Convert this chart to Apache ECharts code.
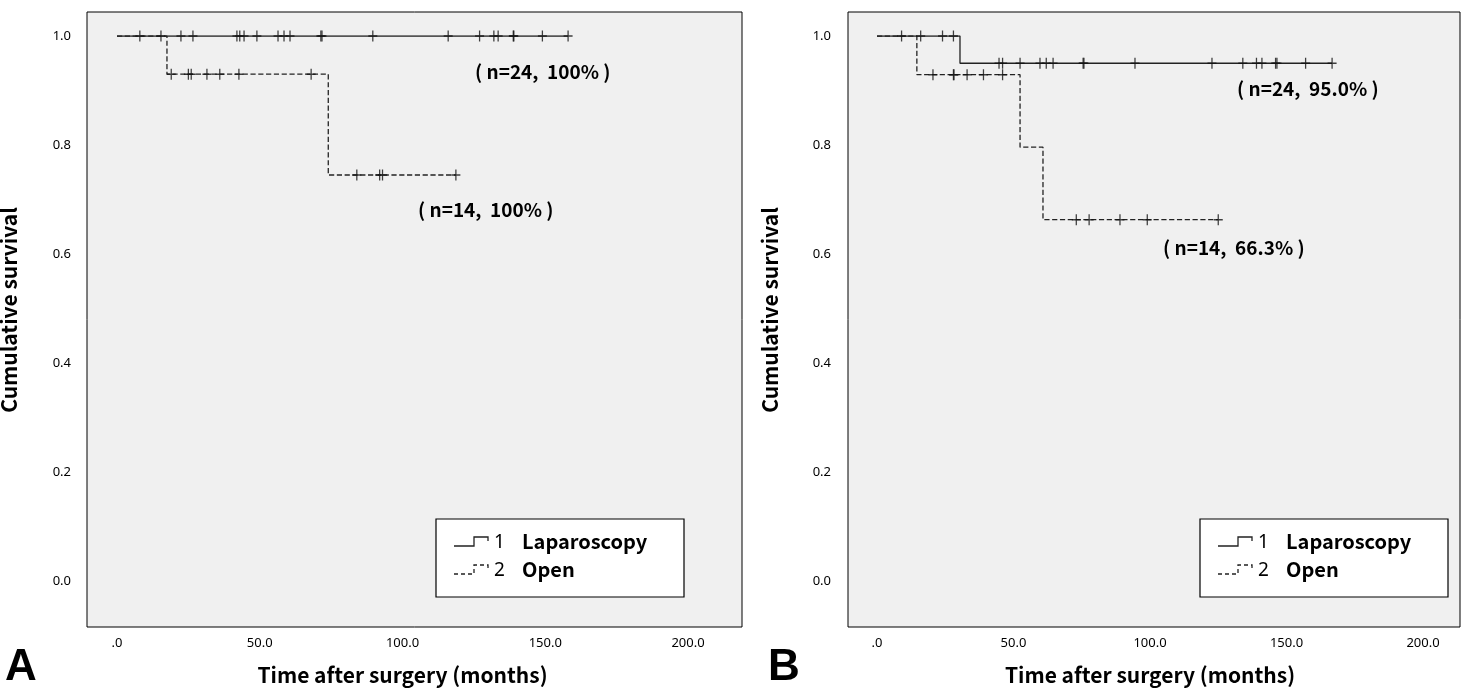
<!DOCTYPE html>
<html><head><meta charset="utf-8">
<script src="https://cdn.jsdelivr.net/npm/echarts@6/dist/echarts.min.js"></script>
<style>html,body{margin:0;background:#fff}#main{width:1465px;height:695px}</style>
</head><body><div id="main"></div>
<script>
// panel A
let lapStepsA = [[0, 1], [158, 1]];
let lapCensA = [8, 15.4, 22.4, 26.6, 42, 43, 44.5, 49, 56.4, 58.5, 60.6, 71.4, 71.8, 89.6, 116, 127, 132, 133.5, 138.8, 139, 149, 158];
let openStepsA = [[0, 1], [17.5, 0.93], [74, 0.745], [118.7, 0.745]];
let openCensA = [19, 25, 26, 31.5, 36, 42.7, 68, 84, 92, 93, 118.7];
// panel B
let lapStepsB = [[0, 1], [30.4, 0.95], [166.7, 0.95]];
let lapCensB = [9, 16, 24, 28, 44.7, 46, 52.4, 59.7, 62, 64.5, 75.5, 75.8, 94.5, 122.7, 134, 139, 141, 146, 146.5, 157, 166.7];
let openStepsB = [[0, 1], [14.6, 0.929], [52.4, 0.796], [60.8, 0.663], [125, 0.663]];
let openCensB = [20.5, 28, 28.2, 33, 39, 46, 73, 77.7, 89, 99, 125];
let xTicks = ['.0', '50.0', '100.0', '150.0', '200.0'];
let yTicks = ['0.0', '0.2', '0.4', '0.6', '0.8', '1.0'];

function yAt(steps, t) {
    let v = 1;
    steps.forEach(p => { if (p[0] <= t) v = p[1]; });
    return v;
}

let panels = [
    {box: [87, 12, 655, 615], left: 117, width: 571, lap: lapStepsA, lapC: lapCensA, open: openStepsA, openC: openCensA,
     lapTxt: '( n=24,  100% )', lapPos: [475, 62], openTxt: '( n=14,  100% )', openPos: [418, 200], legend: [436, 519], letter: 'A', lx: 5},
    {box: [848, 12, 612, 615], left: 877, width: 546, lap: lapStepsB, lapC: lapCensB, open: openStepsB, openC: openCensB,
     lapTxt: '( n=24,  95.0% )', lapPos: [1237, 79], openTxt: '( n=14,  66.3% )', openPos: [1163, 238], legend: [1200, 519], letter: 'B', lx: 768}
];

let grid = [], xAxis = [], yAxis = [], series = [], graphic = [];
let plus = 'path://M0,-1L0,1M-1,0L1,0';
let bold = {fontFamily: 'Noto Sans CJK KR', fontWeight: 'bold', fill: '#000'};

panels.forEach((p, i) => {
    grid.push({left: p.left, top: 36, width: p.width, height: 545});
    xAxis.push({gridIndex: i, type: 'value', min: 0, max: 200, interval: 50,
        axisLine: {show: false}, axisTick: {show: false}, splitLine: {show: false},
        axisLabel: {margin: 56, color: '#000', fontSize: 13, fontFamily: 'Noto Sans', formatter: v => xTicks[v / 50]}});
    yAxis.push({gridIndex: i, type: 'value', min: 0, max: 1, interval: 0.2,
        axisLine: {show: false}, axisTick: {show: false}, splitLine: {show: false},
        axisLabel: {margin: 46, color: '#000', fontSize: 13, fontFamily: 'Noto Sans', formatter: v => yTicks[Math.round(v * 5)]}});
    [['lap', 'lapC', 'solid'], ['open', 'openC', 'dashed']].forEach(s => {
        series.push({type: 'line', xAxisIndex: i, yAxisIndex: i, step: 'end', data: p[s[0]], symbol: 'none', z: 3,
            lineStyle: {color: '#222', width: 1.3, type: s[2]}, silent: true});
        series.push({type: 'scatter', xAxisIndex: i, yAxisIndex: i, symbol: plus, symbolSize: [9, 11], z: 4,
            data: p[s[1]].map(t => [t, yAt(p[s[0]], t)]),
            itemStyle: {color: 'none', borderColor: '#111', borderWidth: 1.4}});
    });
    graphic.push({type: 'rect', z: -10, shape: {x: p.box[0], y: p.box[1], width: p.box[2], height: p.box[3]},
        style: {fill: '#f0f0f0', stroke: '#000', lineWidth: 1}});
    graphic.push({type: 'text', x: p.lapPos[0], y: p.lapPos[1], style: Object.assign({text: p.lapTxt, fontSize: 19}, bold)});
    graphic.push({type: 'text', x: p.openPos[0], y: p.openPos[1], style: Object.assign({text: p.openTxt, fontSize: 19}, bold)});
    let lx = p.legend[0], ly = p.legend[1];
    graphic.push({type: 'rect', shape: {x: lx, y: ly, width: 248, height: 78}, style: {fill: '#fff', stroke: '#000', lineWidth: 1.2}});
    graphic.push({type: 'polyline', shape: {points: [[lx + 18, ly + 27], [lx + 38, ly + 27], [lx + 38, ly + 18], [lx + 52, ly + 18], [lx + 52, ly + 22]]},
        style: {stroke: '#222', lineWidth: 1.3, fill: null}});
    graphic.push({type: 'polyline', shape: {points: [[lx + 18, ly + 55], [lx + 38, ly + 55], [lx + 38, ly + 46], [lx + 52, ly + 46], [lx + 52, ly + 50]]},
        style: {stroke: '#222', lineWidth: 1.3, fill: null, lineDash: [4, 3]}});
    graphic.push({type: 'text', x: lx + 58, y: ly + 14, style: {text: '1', fontSize: 19, fontFamily: 'Noto Sans', fill: '#000'}});
    graphic.push({type: 'text', x: lx + 58, y: ly + 42, style: {text: '2', fontSize: 19, fontFamily: 'Noto Sans', fill: '#000'}});
    graphic.push({type: 'text', x: lx + 86, y: ly + 12, style: Object.assign({text: 'Laparoscopy', fontSize: 20}, bold)});
    graphic.push({type: 'text', x: lx + 86, y: ly + 40, style: Object.assign({text: 'Open', fontSize: 20}, bold)});
    graphic.push({type: 'text', x: p.box[0] - 78, y: 310, rotation: Math.PI / 2, style: Object.assign({text: 'Cumulative survival', fontSize: 21, align: 'center', verticalAlign: 'middle'}, bold)});
    graphic.push({type: 'text', x: p.left + p.width / 2, y: 675, style: Object.assign({text: 'Time after surgery (months)', fontSize: 21, align: 'center', verticalAlign: 'middle'}, bold)});
    graphic.push({type: 'text', x: p.lx, y: 646, style: Object.assign({text: p.letter, fontSize: 44, fontFamily: 'Liberation Sans'}, {fontWeight: 'bold', fill: '#000'})});
});

let chart = echarts.init(document.getElementById('main'));
chart.setOption({animation: false, grid, xAxis, yAxis, series, graphic});
</script></body></html>
